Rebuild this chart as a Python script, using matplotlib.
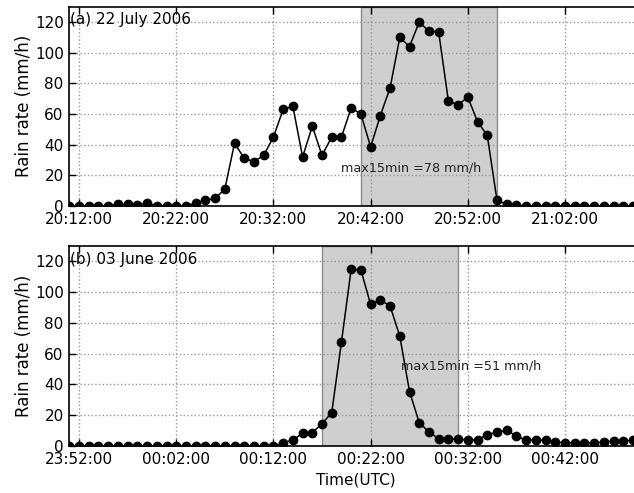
import numpy as np
import pandas as pd
import matplotlib
matplotlib.use('Agg')
import matplotlib.pyplot as plt
import matplotlib.dates as mdates

# rain rate, one value per minute (mm/h)
start_a = '2006-07-22 20:11'
rain_a = [0, 0, 0, 0, 0, 1.3, 1, 0.4, 2, 0, 0, 0, 0.3, 1.7, 3.9, 5, 11, 41, 31, 29,
          33, 45, 63, 65, 32, 52, 33, 45, 45, 64, 60, 38.5, 59, 77, 110, 104, 120, 114,
          113.5, 68.5, 66, 71, 55, 46, 3.7, 1, 0.5, 0, 0, 0, 0, 0, 0, 0, 0, 0, 0, 0, 0]
window_a = ('2006-07-22 20:41', '2006-07-22 20:55')
label_a = '(a) 22 July 2006'
note_a = 'max15min =78 mm/h'

start_b = '2006-06-02 23:51'
rain_b = [0] * 22 + [2, 4, 8.2, 8.7, 14.5, 21.7, 67.7, 115, 114.4, 92, 95, 91, 71.4, 35.4,
                     15.2, 9.1, 4.8, 4.3, 4.6, 3.7, 4.1, 7.4, 8.9, 10.2, 6.5, 3.7, 4.1, 3.7,
                     2.4, 2.2, 2, 2, 2, 2.6, 3.3, 3.3, 3.7]
window_b = ('2006-06-03 00:17', '2006-06-03 00:31')
label_b = '(b) 03 June 2006'
note_b = 'max15min =51 mm/h'

W, H = 634, 493
fig = plt.figure(figsize=(W / 100, H / 100), dpi=100)

left = 69.3 / W
width = 573.5 / W
ax_a = fig.add_axes([left, 1 - 206 / H, width, 199.3 / H])
ax_b = fig.add_axes([left, 1 - 446 / H, width, 200 / H])


def draw_panel(ax, start, rain, window, label, note, note_xy):
    t = pd.date_range(start, periods=len(rain), freq='1min')
    ax.axvspan(pd.Timestamp(window[0]), pd.Timestamp(window[1]),
               facecolor='#cfcfcf', edgecolor='#8a8a8a', linewidth=1, zorder=0.5)
    ax.plot(t, rain, 'k-', marker='o', markersize=6, linewidth=1.1, zorder=3)
    ax.set_xlim(t[0], t[0] + pd.Timedelta(minutes=59))
    ax.set_ylim(0, 130)
    ax.set_yticks(np.arange(0, 121, 20))
    ax.xaxis.set_major_locator(mdates.MinuteLocator(byminute=range(2, 60, 10)))
    ax.xaxis.set_major_formatter(mdates.DateFormatter('%H:%M:%S'))
    ax.grid(True, color='0.6', linestyle=':', linewidth=1)
    ax.tick_params(direction='in', top=True, right=True, length=5, width=1,
                   labelsize=11, pad=4)
    ax.set_ylabel('Rain rate (mm/h)', fontsize=12, labelpad=1)
    for s in ax.spines.values():
        s.set_linewidth(1.2)
    ax.text(0.002, 0.972, label, transform=ax.transAxes, fontsize=11,
            va='top', ha='left')
    ax.text(pd.Timestamp(note_xy[0]), note_xy[1], note, fontsize=9.2,
            va='center', ha='left', color='#222222')


draw_panel(ax_a, start_a, rain_a, window_a, label_a, note_a, ('2006-07-22 20:39:00', 25))
draw_panel(ax_b, start_b, rain_b, window_b, label_b, note_b, ('2006-06-03 00:25:05', 52))
ax_b.set_xlabel('Time(UTC)', fontsize=11, labelpad=4)

fig.savefig('out.png', dpi=100)
